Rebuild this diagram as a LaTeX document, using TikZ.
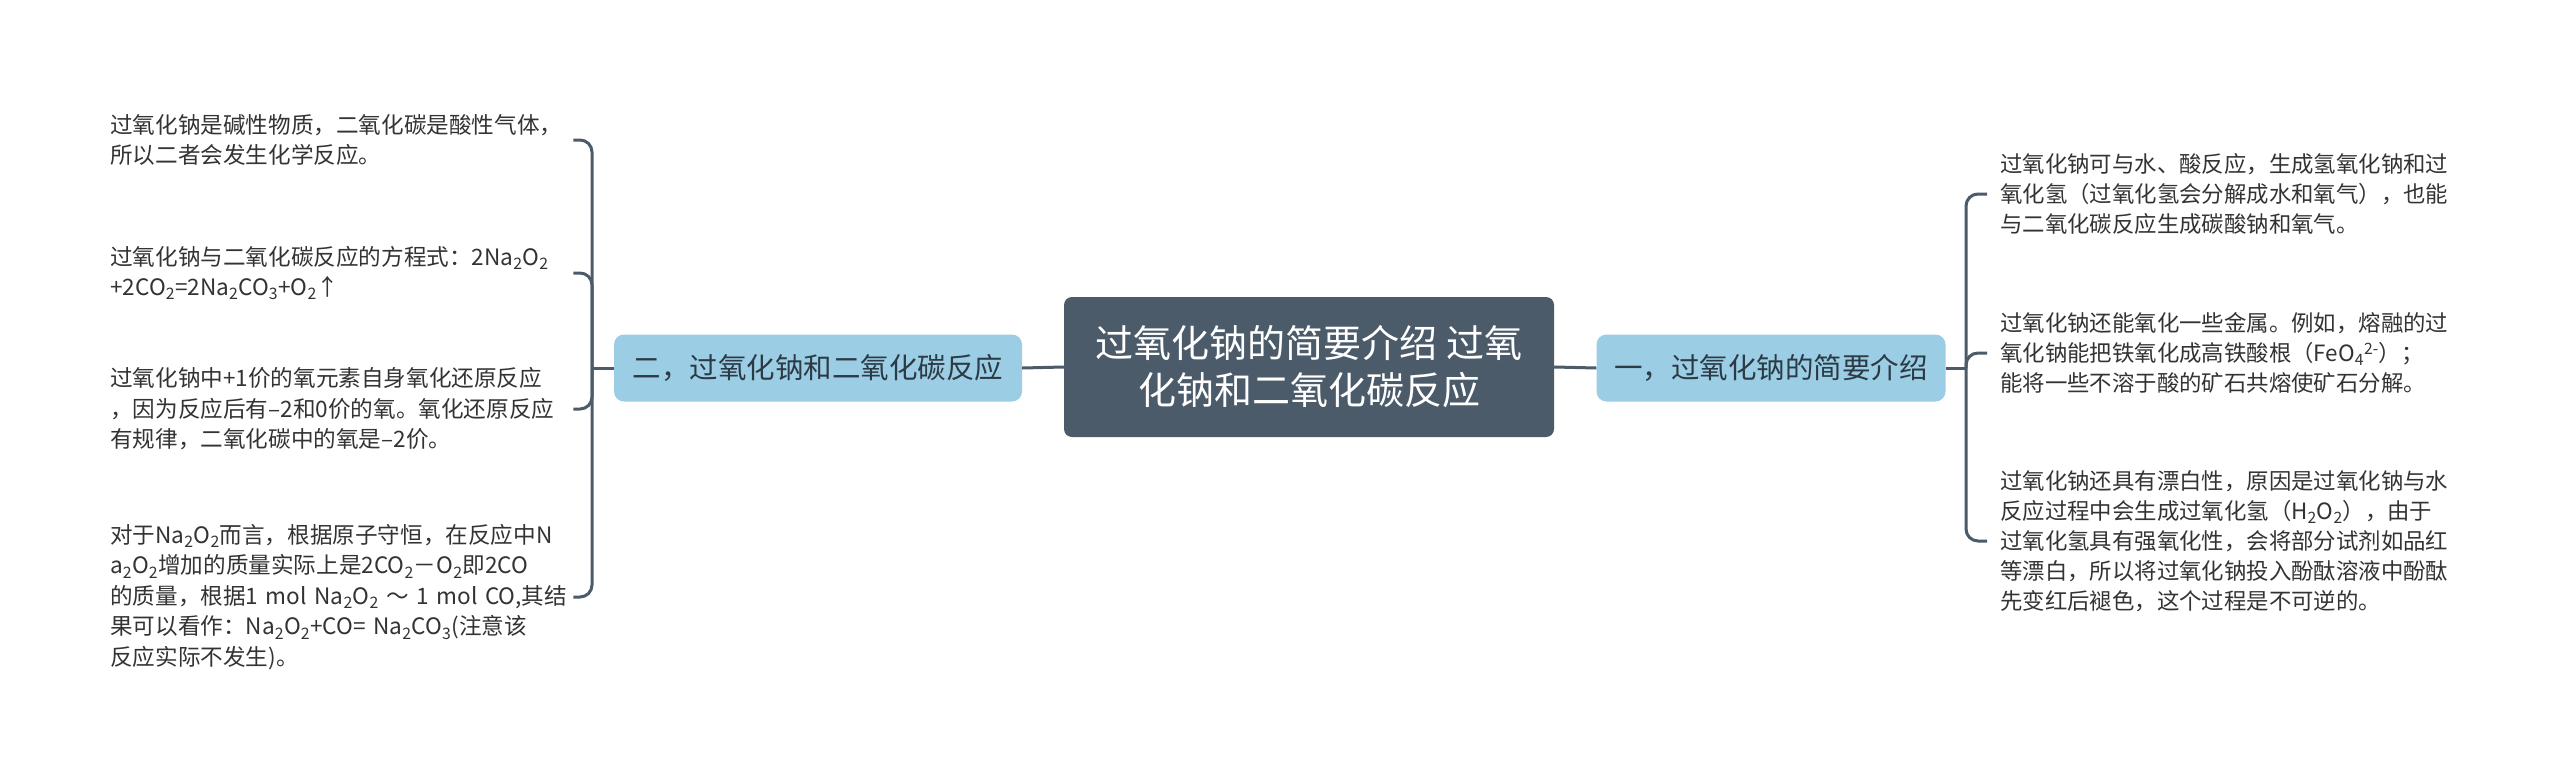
\documentclass[tikz,border=0pt]{standalone}
\usepackage{fontspec}
\setmainfont{Noto Sans CJK SC}
\usetikzlibrary{positioning}

\definecolor{rootfill}{HTML}{4B5B6A}
\definecolor{subfill}{HTML}{9BCDE4}
\definecolor{linkcol}{HTML}{4B5B6A}
\definecolor{leaftext}{HTML}{333333}
\definecolor{subtext}{HTML}{2C3A45}

\newcommand{\chdn}[1]{\textsubscript{#1}}
\newcommand{\chup}[1]{\textsuperscript{#1}}

\tikzset{
    root/.style={fill=rootfill, text=white, rounded corners=8pt, align=center,
        minimum width=490pt, minimum height=140pt,
        font=\fontsize{38}{47}\selectfont},
    subnode/.style={fill=subfill, text=subtext, rounded corners=10pt,
        minimum height=67pt, font=\fontsize{28.5}{34}\selectfont},
    leafL/.style={anchor=west, inner sep=0pt, text width=463pt, align=left,
        text=leaftext, font=\fontsize{22.6}{30.5}\selectfont},
    leafR/.style={anchor=west, inner xsep=13pt, inner ysep=0pt, text width=470pt,
        align=left, text=leaftext, font=\fontsize{22.4}{30}\selectfont},
    link/.style={draw=linkcol, line width=3pt},
}

\begin{document}
\begin{tikzpicture}[x=1pt, y=-1pt]
    \fill[white] (0,0) rectangle (2560,779);
    \useasboundingbox (0,0) rectangle (2560,779);

    % centre and the two branches
    \node[root] (root) at (1309,367) {过氧化钠的简要介绍 过氧\\化钠和二氧化碳反应};
    \node[subnode, minimum width=408pt] (sub2) at (818,368) {二，过氧化钠和二氧化碳反应};
    \node[subnode, minimum width=349pt] (sub1) at (1771,368) {一，过氧化钠的简要介绍};

    % left leaves
    \node[leafL] (l1) at (110,140) {过氧化钠是碱性物质，二氧化碳是酸性气体，\\所以二者会发生化学反应。};
    \node[leafL] (l2) at (110,273) {过氧化钠与二氧化碳反应的方程式：2Na\chdn{2}O\chdn{2}\\+2CO\chdn{2}=2Na\chdn{2}CO\chdn{3}+O\chdn{2}↑};
    \node[leafL] (l3) at (110,409) {过氧化钠中+1价的氧元素自身氧化还原反应\\，因为反应后有–2和0价的氧。氧化还原反应\\有规律，二氧化碳中的氧是–2价。};
    \node[leafL] (l4) at (110,597) {对于Na\chdn{2}O\chdn{2}而言，根据原子守恒，在反应中N\\a\chdn{2}O\chdn{2}增加的质量实际上是2CO\chdn{2}－O\chdn{2}即2CO\\的质量，根据1 mol Na\chdn{2}O\chdn{2} ～ 1 mol CO,其结\\果可以看作：Na\chdn{2}O\chdn{2}+CO= Na\chdn{2}CO\chdn{3}(注意该\\反应实际不发生)。};

    % right leaves
    \node[leafR] (r1) at (1987,194) {过氧化钠可与水、酸反应，生成氢氧化钠和过\\氧化氢（过氧化氢会分解成水和氧气），也能\\与二氧化碳反应生成碳酸钠和氧气。};
    \node[leafR] (r2) at (1987,353) {过氧化钠还能氧化一些金属。例如，熔融的过\\氧化钠能把铁氧化成高铁酸根（FeO\chdn{4}\chup{2-}）；\\能将一些不溶于酸的矿石共熔使矿石分解。};
    \node[leafR] (r3) at (1987,541) {过氧化钠还具有漂白性，原因是过氧化钠与水\\反应过程中会生成过氧化氢（H\chdn{2}O\chdn{2}），由于\\过氧化氢具有强氧化性，会将部分试剂如品红\\等漂白，所以将过氧化钠投入酚酞溶液中酚酞\\先变红后褪色，这个过程是不可逆的。};

    \coordinate (hub2) at (592,368);
    \coordinate (hub1) at (1966,368);

    \draw[link] (root.west) -- (sub2.east);
    \draw[link] (root.east) -- (sub1.west);
    \draw[link] (sub2.west) -- (hub2);
    \draw[link] (sub1.east) -- (hub1);
    \foreach \n in {l1,l2,l3,l4}
        \draw[link, rounded corners=12pt] (hub2) |- (\n.east);
    \foreach \n in {r1,r2,r3}
        \draw[link, rounded corners=12pt] (hub1) |- (\n.west);
\end{tikzpicture}
\end{document}
